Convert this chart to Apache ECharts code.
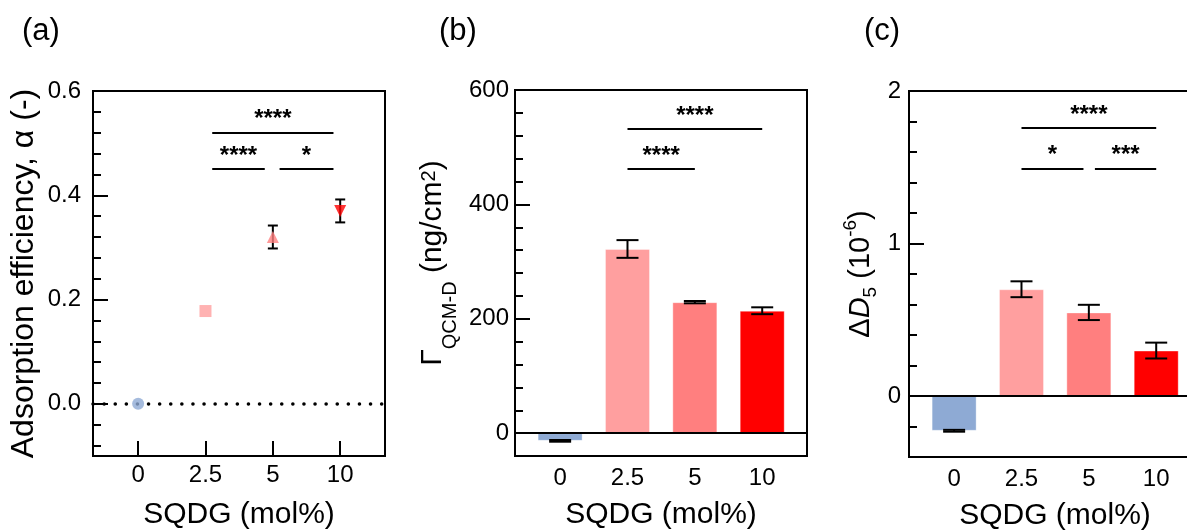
<!DOCTYPE html>
<html>
<head>
<meta charset="utf-8">
<script src="https://cdn.jsdelivr.net/npm/echarts@6/dist/echarts.min.js"></script>
<style>
  html, body { margin: 0; background: #fff; }
  #chart { width: 1187px; height: 531px; }
</style>
</head>
<body>
<div id="chart"></div>
<script>
const categories = ['0', '2.5', '5', '10'];
const colors = ['#8eaad4', '#ff9f9f', '#ff7f7f', '#ff0000'];
const symbols = ['circle', 'rect', 'triangle', 'triangle'];
const symbolRotations = [0, 0, 0, 180];

// (a) adsorption efficiency
const alphaMean = [0, 0.178, 0.32, 0.37];
const alphaErr = [0, 0, 0.022, 0.022];
// (b) Γ QCM-D, ng/cm2
const gammaMean = [-13.5, 322, 229, 214];
const gammaErr = [1.5, 15.5, 2, 6];
// (c) ΔD5, 1e-6
const dMean = [-0.228, 0.70, 0.548, 0.298];
const dErr = [0.006, 0.052, 0.05, 0.052];

// significance brackets: [from, to, y, stars]
const sigA = [[1.1, 2.9, 0.52, '****'], [1.1, 1.88, 0.45, '****'], [2.1, 2.9, 0.45, '*']];
const sigB = [[1, 3, 532, '****'], [1, 2, 462, '****']];
const sigC = [[1, 3, 1.757, '****'], [1, 1.92, 1.49, '*'], [2.09, 3, 1.49, '***']];

// y ticks
const ticksA = [0, 0.2, 0.4, 0.6];
const minorA = [-0.08, -0.04, 0.04, 0.08, 0.12, 0.16, 0.24, 0.28, 0.32, 0.36, 0.44, 0.48, 0.52, 0.56];
const ticksB = [0, 200, 400, 600];
const minorB = [40, 80, 120, 160, 240, 280, 320, 360, 440, 480, 520, 560];
const ticksC = [0, 1, 2];
const minorC = [-0.2, 0.2, 0.4, 0.6, 0.8, 1.2, 1.4, 1.6, 1.8];

const FONT = 'Liberation Sans, Arial, sans-serif';
const catIdx = [0, 1, 2, 3];

function xAxisFor(gridIndex, showTicks, labelMargin) {
  return {
    type: 'value', gridIndex, min: -0.67, max: 3.665,
    axisLine: { show: false, onZero: false }, splitLine: { show: false },
    axisTick: { show: showTicks, inside: true, length: 15, customValues: catIdx,
      lineStyle: { color: '#000', width: 2 } },
    axisLabel: { customValues: catIdx, formatter: v => categories[Math.round(v)],
      fontSize: 24, color: '#000', fontFamily: FONT, margin: labelMargin },
    name: 'SQDG (mol%)', nameLocation: 'middle', nameGap: 44,
    nameTextStyle: { fontSize: 30, color: '#000', fontFamily: FONT }
  };
}

function yMajor(gridIndex, min, max, ticks, fmt, margin, name, nameGap, nameStyle) {
  return {
    type: 'value', gridIndex, min, max, position: 'left',
    axisLine: { show: false, onZero: false }, splitLine: { show: false },
    axisTick: { inside: true, length: 15, customValues: ticks, lineStyle: { color: '#000', width: 2 } },
    axisLabel: { customValues: ticks, formatter: fmt, fontSize: 24, color: '#000', fontFamily: FONT, margin },
    name, nameLocation: 'middle', nameRotate: 90, nameGap,
    nameTextStyle: Object.assign({ color: '#000', fontFamily: FONT }, nameStyle)
  };
}

function yMinor(gridIndex, min, max, minor) {
  return {
    type: 'value', gridIndex, min, max, position: 'left',
    axisLine: { show: false, onZero: false }, splitLine: { show: false }, axisLabel: { show: false },
    axisTick: { inside: true, length: 8, customValues: minor, lineStyle: { color: '#000', width: 2 } }
  };
}

function errRender(capHalf) {
  return function (params, api) {
    const x = api.value(0), m = api.value(1), e = api.value(2);
    if (!e) return null;
    const t = api.coord([x, m + e]);
    const b = api.coord([x, m - e]);
    const s = { stroke: '#000', lineWidth: 2 };
    return {
      type: 'group',
      children: [
        { type: 'line', shape: { x1: t[0], y1: t[1], x2: b[0], y2: b[1] }, style: s },
        { type: 'line', shape: { x1: t[0] - capHalf, y1: t[1], x2: t[0] + capHalf, y2: t[1] }, style: s },
        { type: 'line', shape: { x1: b[0] - capHalf, y1: b[1], x2: b[0] + capHalf, y2: b[1] }, style: s }
      ]
    };
  };
}

function bracketLines(sig) {
  return sig.map(([a, b, y, stars]) => [
    { name: stars, coord: [a, y] },
    { coord: [b, y] }
  ]);
}

function errSeries(idx, mean, err, capHalf, sig, extraLines) {
  return {
    type: 'custom', xAxisIndex: idx, yAxisIndex: idx * 2, z: 5,
    renderItem: errRender(capHalf),
    encode: { x: 0, y: 1 },
    data: mean.map((v, i) => [i, v, err[i]]),
    markLine: {
      silent: true, symbol: 'none', animation: false,
      lineStyle: { color: '#000', width: 2, type: 'solid' },
      label: { show: true, position: 'insideMiddleTop', distance: 1, formatter: '{b}',
        color: '#000', fontSize: 24, fontWeight: 'bold', fontFamily: FONT },
      data: extraLines.concat(bracketLines(sig))
    }
  };
}

function barSeries(idx, mean) {
  return {
    type: 'bar', xAxisIndex: idx, yAxisIndex: idx * 2, barWidth: 45, z: 2,
    data: mean.map((v, i) => ({
      value: [i, v],
      itemStyle: { color: colors[i], borderColor: 'rgba(255,255,255,0.35)', borderWidth: 1 }
    }))
  };
}

const zeroSolid = { yAxis: 0, label: { show: false }, lineStyle: { color: '#000', width: 2, type: 'solid' } };
const zeroDotted = { yAxis: 0, label: { show: false },
  lineStyle: { color: '#000', width: 3.5, type: [0.1, 11], cap: 'round' } };

const chart = echarts.init(document.getElementById('chart'));
chart.setOption({
  animation: false,
  title: [
    { text: '(a)', left: 17, top: 11 },
    { text: '(b)', left: 434, top: 11 },
    { text: '(c)', left: 859, top: 11 }
  ].map(t => Object.assign(t, { textStyle: { fontSize: 31, fontWeight: 'normal', color: '#000', fontFamily: FONT } })),
  grid: [
    { left: 93, top: 91, width: 292, height: 365 },
    { left: 515, top: 90, width: 292, height: 366 },
    { left: 909, top: 91, width: 292, height: 366 }
  ].map(g => Object.assign(g, { show: true, borderColor: '#000', borderWidth: 2,
    containLabel: false, outerBoundsMode: 'none' })),
  xAxis: [xAxisFor(0, true, 7), xAxisFor(1, false, 10), xAxisFor(2, false, 10)],
  yAxis: [
    yMajor(0, -0.1, 0.6, ticksA, v => v.toFixed(1), 12, 'Adsorption efficiency, α (-)', 53, { fontSize: 32 }),
    yMinor(0, -0.1, 0.6, minorA),
    yMajor(1, -40, 600, ticksB, v => String(v), 6, '{g|Γ}{s|QCM-D}{m| (ng/cm}{p|2}{m|)}', 67, {
      fontSize: 30,
      rich: {
        g: { fontSize: 30, lineHeight: 30, color: '#000', fontFamily: FONT, padding: [0, 0, 0, 20] },
        m: { fontSize: 30, lineHeight: 30, color: '#000', fontFamily: FONT },
        s: { fontSize: 20, lineHeight: 30, color: '#000', fontFamily: FONT, padding: [34, 0, 0, 0] },
        p: { fontSize: 20, lineHeight: 30, color: '#000', fontFamily: FONT, padding: [0, 0, 7, 0] }
      }
    }),
    yMinor(1, -40, 600, minorB),
    yMajor(2, -0.4, 2, ticksC, v => String(v), 8, '{m|Δ}{i|D}{s|5}{m| (10}{p|-6}{m|)}', 33, {
      fontSize: 29,
      rich: {
        m: { fontSize: 29, lineHeight: 30, color: '#000', fontFamily: FONT },
        i: { fontSize: 29, lineHeight: 30, color: '#000', fontFamily: FONT, fontStyle: 'italic' },
        s: { fontSize: 19, lineHeight: 30, color: '#000', fontFamily: FONT, padding: [19, 0, 0, 0] },
        p: { fontSize: 19, lineHeight: 30, color: '#000', fontFamily: FONT, padding: [0, 0, 21, 0] }
      }
    }),
    yMinor(2, -0.4, 2, minorC)
  ],
  series: [
    {
      type: 'scatter', xAxisIndex: 0, yAxisIndex: 0, symbolSize: 12, z: 6,
      data: alphaMean.map((v, i) => ({
        value: [i, v], symbol: symbols[i], symbolRotate: symbolRotations[i],
        itemStyle: { color: colors[i] }
      }))
    },
    errSeries(0, alphaMean, alphaErr, 5, sigA, [Object.assign({}, zeroDotted)]),
    barSeries(1, gammaMean),
    errSeries(1, gammaMean, gammaErr, 11, sigB, [Object.assign({}, zeroSolid)]),
    barSeries(2, dMean),
    errSeries(2, dMean, dErr, 11, sigC, [Object.assign({}, zeroSolid)])
  ]
});
</script>
</body>
</html>
